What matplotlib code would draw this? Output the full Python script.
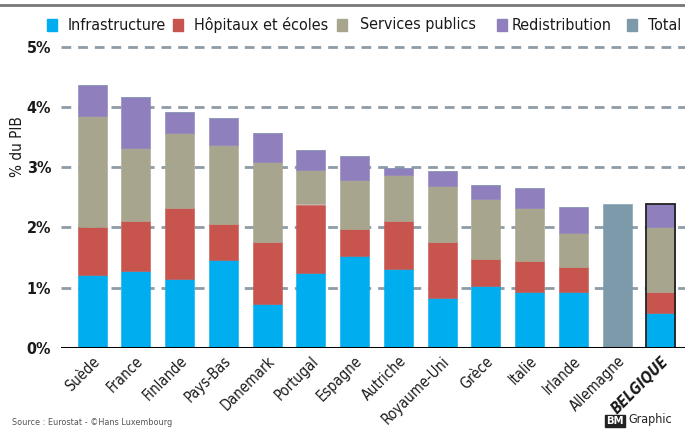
import matplotlib
matplotlib.use('Agg')
import matplotlib.pyplot as plt
from matplotlib.patches import Rectangle
from matplotlib.lines import Line2D

plt.rcParams['font.family'] = ['DejaVu Sans']
plt.rcParams['font.stretch'] = 'condensed'

# données (% du PIB)
pays = ['Suède', 'France', 'Finlande', 'Pays-Bas', 'Danemark', 'Portugal', 'Espagne',
        'Autriche', 'Royaume-Uni', 'Grèce', 'Italie', 'Irlande', 'Allemagne', 'BELGIQUE']
infrastructure = [1.21, 1.28, 1.14, 1.46, 0.73, 1.25, 1.53, 1.31, 0.83, 1.03, 0.93, 0.93, 0, 0.58]
hopitaux = [0.79, 0.83, 1.19, 0.60, 1.02, 1.13, 0.44, 0.79, 0.92, 0.45, 0.52, 0.42, 0, 0.35]
services = [1.85, 1.21, 1.24, 1.31, 1.33, 0.57, 0.81, 0.77, 0.94, 0.99, 0.87, 0.56, 0, 1.07]
redistribution = [0.51, 0.84, 0.34, 0.44, 0.49, 0.34, 0.41, 0.12, 0.25, 0.23, 0.33, 0.43, 0, 0.39]
total = [0, 0, 0, 0, 0, 0, 0, 0, 0, 0, 0, 0, 2.38, 0]

series = ['Infrastructure', 'Hôpitaux et écoles', 'Services publics', 'Redistribution', 'Total']
couleurs = ['#00aeef', '#c8544e', '#a8a58f', '#8f80bd', '#7d9aab']

fig = plt.figure(figsize=(6.85, 4.29), dpi=100)
ax = fig.add_axes([61 / 685, 1 - 348 / 429, 624 / 685, 307.5 / 429])

x = list(range(len(pays)))
bas = [0] * len(pays)
for vals, c in zip([infrastructure, hopitaux, services, redistribution, total], couleurs):
    ax.bar(x, vals, bottom=bas, width=0.66, color=c, edgecolor=c, linewidth=0.4, zorder=2)
    bas = [b + v for b, v in zip(bas, vals)]

# contour de la Belgique
ib = pays.index('BELGIQUE')
ax.bar(ib, bas[ib], width=0.66, fill=False, edgecolor='#222222', linewidth=1.3, zorder=3)

ax.set_xlim(-0.71, 13.55)
ax.set_ylim(0, 5.1)
for spine in ax.spines.values():
    spine.set_visible(False)
ax.axhline(0, color='black', linewidth=2.2, zorder=4)
for g in [1, 2, 3, 4, 5]:
    ax.axhline(g, color='#8d9ca6', linewidth=2, linestyle=(0, (3.5, 2.5)), zorder=1)

ax.set_yticks([0, 1, 2, 3, 4, 5])
ax.set_yticklabels(['0%', '1%', '2%', '3%', '4%', '5%'], fontsize=11.5, fontweight='bold', color='#1a1a1a')
ax.tick_params(axis='y', length=0, pad=7)
ax.set_xticks(x)
ax.set_xticklabels(pays, rotation=45, ha='right', rotation_mode='anchor', fontsize=10.5, color='#1a1a1a')
ax.tick_params(axis='x', length=0, pad=4)
for lab in ax.get_xticklabels():
    if lab.get_text() == 'BELGIQUE':
        lab.set_fontweight('bold')
        lab.set_fontstyle('italic')

fig.text(17 / 685, 1 - 147 / 429, '% du PIB', rotation=90, ha='center', va='center',
         fontsize=11, color='#1a1a1a')

# légende
carres = [47, 173, 337, 497, 627]
textes = [68, 194, 360, 512, 648]
for s, c, xc, xt in zip(series, couleurs, carres, textes):
    fig.patches.append(Rectangle((xc / 685, 1 - 31 / 429), 10 / 685, 12 / 429,
                                 transform=fig.transFigure, color=c))
    fig.text(xt / 685, 1 - 25 / 429, s, ha='left', va='center', fontsize=11.5, color='#1a1a1a')

# trait gris en haut
fig.add_artist(Line2D([0, 1], [1 - 5 / 429, 1 - 5 / 429], transform=fig.transFigure,
                      color='#777777', linewidth=2))

# source et signature en bas
fig.text(12 / 685, 2 / 429, 'Source : Eurostat - ©Hans Luxembourg', ha='left', va='bottom',
         fontsize=6.5, color='#555555')
fig.text(606 / 685, 3 / 429, 'BM', ha='left', va='bottom', fontsize=8, fontweight='bold',
         color='white', bbox=dict(boxstyle='square,pad=0.1', fc='#222222', ec='#222222'))
fig.text(628 / 685, 3 / 429, 'Graphic', ha='left', va='bottom', fontsize=9, color='#222222')

fig.savefig('out.png', dpi=100)
